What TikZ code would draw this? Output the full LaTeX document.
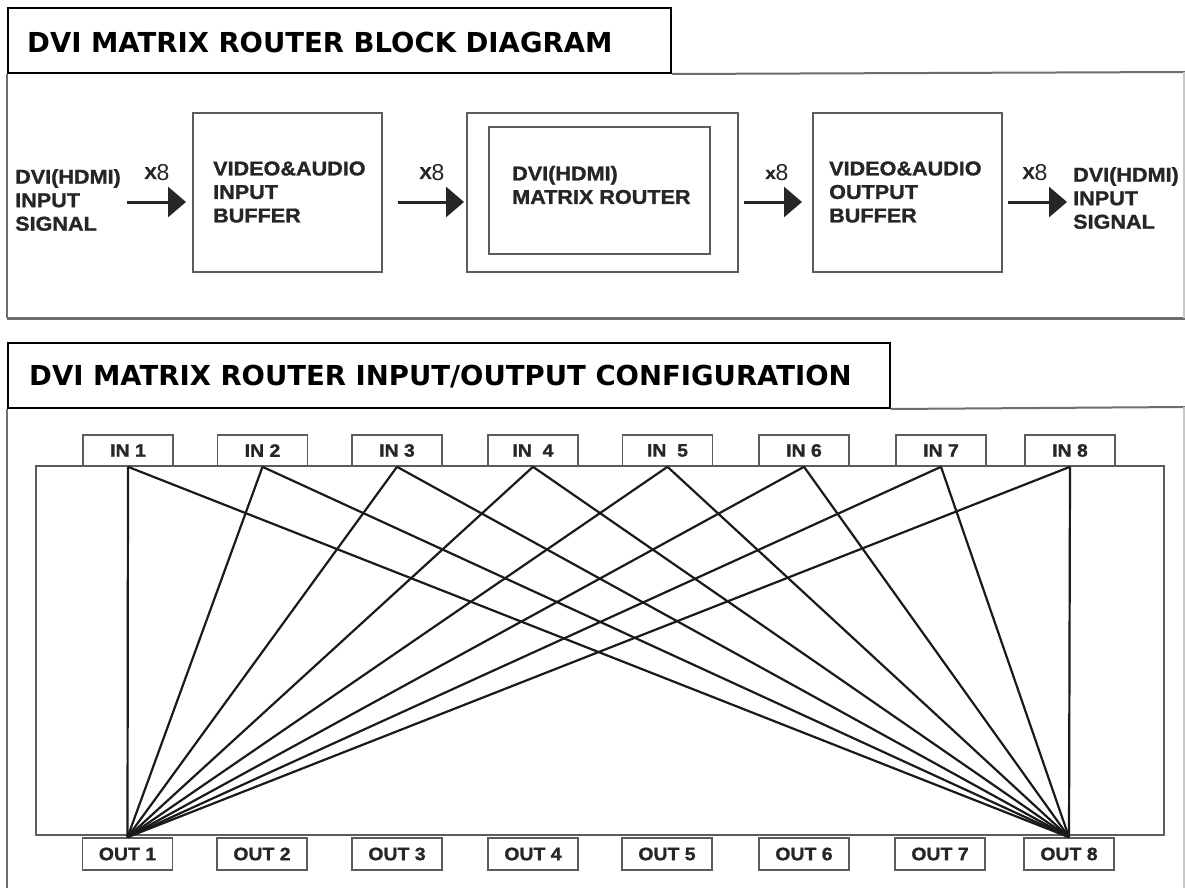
\documentclass[tikz,border=0pt]{standalone}
\usepackage{fontspec}
\setmainfont{Liberation Sans}
\newfontfamily\ttlfont{DejaVu Sans}
\newfontfamily\blkfont{Liberation Sans Bold}[FakeStretch=1.08, FakeBold=1.2]
\newfontfamily\lightfont{Liberation Sans}
\usetikzlibrary{arrows.meta}
\definecolor{panelc}{HTML}{6E6E6E}
\definecolor{boxc}{HTML}{5C5C5C}
\definecolor{txtc}{HTML}{262626}
\definecolor{wirec}{HTML}{1A1A1A}
\definecolor{faintc}{HTML}{C8C8C8}
\tikzset{
 titlebox/.style={draw=black, line width=2pt, inner sep=0pt, anchor=north west},
 titletext/.style={font={\ttlfont\bfseries\fontsize{27.5}{30}\selectfont}, text=black, anchor=base west, inner sep=0pt},
 blockbox/.style={draw=boxc, line width=2pt, inner sep=0pt},
 blocktext/.style={font={\blkfont\fontsize{20}{23.5}\selectfont}, text=txtc, align=left, anchor=west, inner sep=0pt},
 mult/.style={text=txtc, inner sep=0pt},
 bigarrow/.style={line width=3pt, draw=txtc, fill=txtc, -{Triangle[length=18pt,width=30pt]}},
 panel/.style={draw=panelc, line width=2pt},
 faintline/.style={draw=faintc, line width=1.5pt},
 portbox/.style={draw=boxc, line width=1.6pt, fill=white, minimum width=90pt, minimum height=31pt, inner sep=0pt, font={\blkfont\fontsize{18}{18}\selectfont}, text=txtc},
 wire/.style={draw=wirec, line width=2.2pt},
}
\newcommand{\xeight}[1]{\raisebox{2pt}{\blkfont\fontsize{17}{17}\selectfont #1}{\lightfont\fontsize{23}{23}\selectfont 8}}
\begin{document}
\begin{tikzpicture}[x=1pt,y=-1pt]
\useasboundingbox (0,0) rectangle (1185,888);
\fill[white] (0,0) rectangle (1185,888);

% ---------- panel 1 ----------
\node[titlebox, minimum width=663pt, minimum height=65pt] (t1) at (7,7) {};
\node[titletext] (t1txt) at (27,53) {DVI MATRIX ROUTER BLOCK DIAGRAM};
\draw[panel] (t1.south west) -- (7,318);
\draw[panel, line width=3pt] (7,318) -- (1185,318);
\draw[panel] (t1.south east) -- (1185,72);
\draw[faintline] (1184,72) -- (1184,318);

\node[blockbox, minimum width=189pt, minimum height=159pt] (ibuf) at (287.5,192.5) {};
\node[blockbox, minimum width=271pt, minimum height=159pt] (rtr) at (602.5,192.5) {};
\node[blockbox, minimum width=221pt, minimum height=127pt] (rtrin) at (599.5,190.5) {};
\node[blockbox, minimum width=189pt, minimum height=159pt] (obuf) at (907.5,192.5) {};

\node[blocktext] (lin) at (15,200) {DVI(HDMI)\\INPUT\\SIGNAL};
\node[blocktext] (ibuft) at (213,192) {VIDEO\&AUDIO\\INPUT\\BUFFER};
\node[blocktext] (rtrt) at (512,185) {DVI(HDMI)\\MATRIX ROUTER};
\node[blocktext] (obuft) at (829,192) {VIDEO\&AUDIO\\OUTPUT\\BUFFER};
\node[blocktext] (rout) at (1073,198) {DVI(HDMI)\\INPUT\\SIGNAL};

\node[mult] (m1) at (157,173) {\xeight{X}};
\node[mult] (m2) at (432,173) {\xeight{X}};
\node[mult] (m3) at (777,173) {\xeight{x}};
\node[mult] (m4) at (1035,173) {\xeight{X}};

\coordinate (ay) at (0,202);
\draw[bigarrow, shorten <=6pt, shorten >=6pt] (lin.east |- ay) -- (ibuf.west |- ay);
\draw[bigarrow, shorten <=15pt, shorten >=2pt] (ibuf.east |- ay) -- (rtr.west |- ay);
\draw[bigarrow, shorten <=5pt, shorten >=10pt] (rtr.east |- ay) -- (obuf.west |- ay);
\draw[bigarrow, shorten <=5pt, shorten >=6pt] (obuf.east |- ay) -- (rout.west |- ay);

% ---------- panel 2 ----------
\node[titlebox, minimum width=882pt, minimum height=65pt] (t2) at (7,342) {};
\node[titletext] (t2txt) at (29,385) {DVI MATRIX ROUTER INPUT/OUTPUT CONFIGURATION};
\draw[panel] (t2.south west) -- (7,888);
\draw[panel] (t2.south east) -- (1185,407);
\draw[faintline] (1184,407) -- (1184,888);

\node[draw=boxc, line width=1.6pt, minimum width=1128pt, minimum height=369pt, inner sep=0pt] (mx) at (600,650.5) {};

\foreach \i/\cx/\lab in {1/128/IN 1, 2/262.5/IN 2, 3/397/IN 3, 4/533/IN\ \ 4, 5/667.5/IN\ \ 5, 6/804/IN 6, 7/941/IN 7, 8/1070/IN 8}
  \node[portbox] (in\i) at (\cx,450.5) {\lab};
\foreach \i/\cx in {1/127.5, 2/262, 3/397, 4/533, 5/667, 6/804, 7/940, 8/1069}
  \node[portbox, minimum height=32pt] (out\i) at (\cx,854) {OUT \i};

\foreach \i in {1,...,8} {
  \draw[wire] (in\i.south) -- (out1.north);
  \draw[wire] (in\i.south) -- (out8.north);
}
\end{tikzpicture}
\end{document}
